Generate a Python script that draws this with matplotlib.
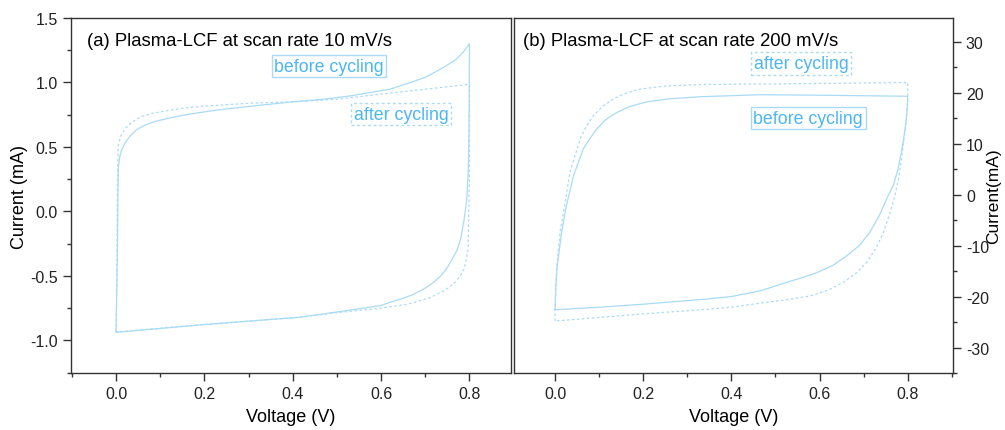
import numpy as np
import matplotlib.pyplot as plt
from matplotlib.ticker import MultipleLocator

plt.rcParams['font.family'] = ['Liberation Sans', 'DejaVu Sans']
plt.rcParams['axes.unicode_minus'] = False

# (a) 10 mV/s, before cycling: forward then reverse sweep
v10_before = [0.0, 0.003, 0.005, 0.008, 0.013, 0.02, 0.032, 0.045, 0.062, 0.085, 0.115, 0.15, 0.19, 0.25, 0.327,
              0.4, 0.47, 0.53, 0.58, 0.62, 0.667, 0.7, 0.727, 0.75, 0.77, 0.787, 0.8,
              0.8, 0.799, 0.797, 0.794, 0.788, 0.784, 0.78, 0.772, 0.761, 0.749, 0.735, 0.717, 0.697, 0.672,
              0.644, 0.62, 0.599, 0.5, 0.417, 0.19, 0.0]
i10_before = [-0.93, -0.3, 0.33, 0.42, 0.48, 0.53, 0.586, 0.63, 0.664, 0.695, 0.72, 0.745, 0.767, 0.795, 0.824,
              0.85, 0.87, 0.896, 0.925, 0.948, 1.0, 1.04, 1.09, 1.135, 1.18, 1.24, 1.30,
              1.30, 0.6, 0.3, 0.095, -0.06, -0.14, -0.215, -0.3, -0.37, -0.44, -0.5, -0.555, -0.60, -0.645,
              -0.68, -0.705, -0.73, -0.78, -0.82, -0.88, -0.938]

# (a) 10 mV/s, after cycling
v10_after = [0.0, 0.002, 0.003, 0.005, 0.01, 0.02, 0.035, 0.054, 0.08, 0.115, 0.15, 0.19, 0.304, 0.4, 0.5, 0.6, 0.7, 0.8,
             0.8, 0.799, 0.798, 0.797, 0.793, 0.788, 0.779, 0.768, 0.756, 0.742, 0.712, 0.685, 0.659, 0.6,
             0.5, 0.417, 0.19, 0.0]
i10_after = [-0.93, -0.5, 0.2, 0.51, 0.58, 0.64, 0.69, 0.73, 0.76, 0.78, 0.8, 0.814, 0.84, 0.85, 0.87, 0.91, 0.948, 0.986,
             0.3, 0.095, -0.1, -0.29, -0.37, -0.445, -0.5, -0.55, -0.585, -0.615, -0.667, -0.695, -0.72, -0.75,
             -0.785, -0.82, -0.88, -0.935]

# (b) 200 mV/s, before cycling
v200_before = [0.0, 0.002, 0.005, 0.015, 0.025, 0.042, 0.064, 0.08, 0.095, 0.115, 0.14, 0.17, 0.208, 0.26, 0.329,
               0.465, 0.6, 0.8,
               0.799, 0.797, 0.794, 0.79, 0.785, 0.778, 0.768, 0.752, 0.735, 0.714, 0.69, 0.662, 0.63, 0.594,
               0.56, 0.526, 0.465, 0.4, 0.33, 0.2, 0.1, 0.0]
i200_before = [-22.6, -18, -14, -7.4, -2.5, 3.7, 8.94, 11.1, 12.9, 14.7, 16.1, 17.3, 18.2, 18.8, 19.2,
               19.6, 19.5, 19.3,
               17, 15, 13, 10.5, 8, 5, 2, -0.9, -4.2, -7.4, -10, -12, -13.9, -15.3,
               -16.3, -17.2, -18.9, -20, -20.6, -21.5, -22.1, -22.6]

# (b) 200 mV/s, after cycling
v200_after = [0.0, 0.001, 0.004, 0.012, 0.023, 0.034, 0.057, 0.07, 0.087, 0.108, 0.132, 0.16, 0.193, 0.25, 0.329,
              0.465, 0.6, 0.8,
              0.8, 0.798, 0.795, 0.79, 0.786, 0.78, 0.771, 0.76, 0.745, 0.728, 0.707, 0.682, 0.654, 0.62, 0.578,
              0.52, 0.465, 0.4, 0.33, 0.2, 0.1, 0.0]
i200_after = [-24.8, -20.5, -14, -7, -1.5, 4.4, 10.9, 13.3, 15.5, 17.3, 18.75, 19.9, 20.7, 21.3, 21.6,
              21.7, 21.8, 22.0,
              19, 16, 13, 10, 7, 3.5, -0.2, -3.5, -7.4, -10.5, -13.3, -15.5, -17.2, -18.7, -19.9,
              -20.7, -21.3, -22.1, -22.6, -23.4, -24.1, -24.8]

line_c = '#a9dbf7'
text_c = '#4cb6f2'
spine_c = '#333333'

fig = plt.figure(figsize=(10.05, 4.31), dpi=100)
ax1 = fig.add_axes([71 / 1005, 1 - 374 / 431, 440 / 1005, 355 / 431])
ax2 = fig.add_axes([514 / 1005, 1 - 374 / 431, 438.7 / 1005, 355 / 431])

ax1.plot(v10_before, i10_before, color=line_c, lw=0.9)
ax1.plot(v10_after, i10_after, color=line_c, lw=0.9, ls=(0, (2, 2)))
ax2.plot(v200_before, i200_before, color=line_c, lw=0.9)
ax2.plot(v200_after, i200_after, color=line_c, lw=0.9, ls=(0, (2, 2)))

ax1.set_xlim(-0.102, 0.894)
ax1.set_ylim(-1.253, 1.5)
ax2.set_xlim(-0.093, 0.902)
ax2.set_ylim(-35.0, 34.65)

for ax in (ax1, ax2):
    for s in ax.spines.values():
        s.set_color(spine_c)
        s.set_linewidth(1.0)
    ax.xaxis.set_major_locator(MultipleLocator(0.2))
    ax.xaxis.set_minor_locator(MultipleLocator(0.1))
    ax.tick_params(which='major', direction='out', length=6, width=1, color=spine_c,
                   labelsize=11.5, labelcolor='#222222')
    ax.tick_params(which='minor', direction='out', length=3, width=1, color=spine_c)
    ax.set_xlabel('Voltage (V)', fontsize=13, labelpad=5)
    ax.set_xticks([0.0, 0.2, 0.4, 0.6, 0.8])
    ax.set_xticklabels(['0.0', '0.2', '0.4', '0.6', '0.8'])

ax1.yaxis.set_major_locator(MultipleLocator(0.5))
ax1.yaxis.set_minor_locator(MultipleLocator(0.25))
ax1.set_ylabel('Current (mA)', fontsize=13, va='center')
ax1.yaxis.set_label_coords(-0.116, 0.5)

ax2.yaxis.tick_right()
ax2.yaxis.set_label_position('right')
ax2.yaxis.set_major_locator(MultipleLocator(10))
ax2.yaxis.set_minor_locator(MultipleLocator(5))
ax2.set_ylabel('Current(mA)', fontsize=12.5, rotation=90, va='center')
ax2.yaxis.set_label_coords(1.094, 0.5)

ax1.text(0.036, 0.938, '(a) Plasma-LCF at scan rate 10 mV/s', transform=ax1.transAxes,
         fontsize=13.3, va='center', ha='left')
ax2.text(0.02, 0.938, '(b) Plasma-LCF at scan rate 200 mV/s', transform=ax2.transAxes,
         fontsize=13.3, va='center', ha='left')

box_solid = dict(boxstyle='square,pad=0.15', fc='none', ec=line_c, lw=1.0)
box_dash = dict(boxstyle='square,pad=0.15', fc='none', ec=line_c, lw=1.0, ls=(0, (2, 2)))

ax1.text(0.482, 1.126, 'before cycling', color=text_c, fontsize=12.8, ha='center', va='center', bbox=box_solid)
ax1.text(0.645, 0.754, 'after cycling', color=text_c, fontsize=12.8, ha='center', va='center', bbox=box_dash)
ax2.text(0.558, 25.7, 'after cycling', color=text_c, fontsize=12.8, ha='center', va='center', bbox=box_dash)
ax2.text(0.574, 15.0, 'before cycling', color=text_c, fontsize=12.8, ha='center', va='center', bbox=box_solid)

fig.savefig('out.png', dpi=100)
